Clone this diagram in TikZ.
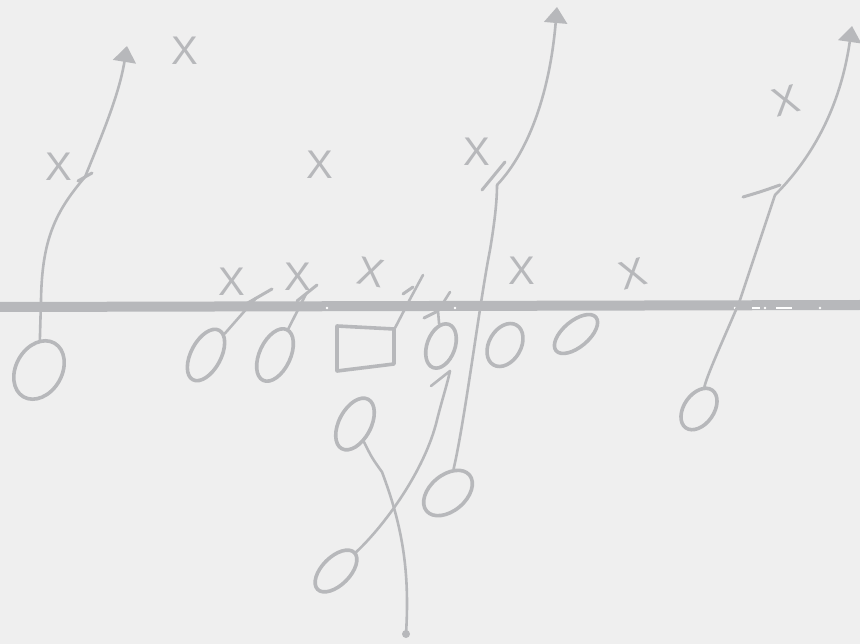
\documentclass[tikz,border=0pt]{standalone}
\usepackage{fontspec}
\setmainfont{Liberation Sans}
\usetikzlibrary{shapes.geometric,arrows.meta}
\definecolor{ink}{HTML}{B7B8BB}
\definecolor{paper}{HTML}{EFEFEF}
\begin{document}
\begin{tikzpicture}[x=1pt,y=-1pt,
  player/.style={ellipse, draw=ink, line width=3.6pt, inner sep=0pt},
  route/.style={draw=ink, line width=2.6pt, line cap=round, line join=round},
  arrowroute/.style={route, -{Triangle[length=16pt,width=23pt]}},
  block/.style={draw=ink, line width=3pt, line cap=round},
  defender/.style={text=ink, font=\fontsize{40}{40}\selectfont, inner sep=0pt},
  gap/.style={fill=white}]
\fill[paper] (0,0) rectangle (860,644);
\useasboundingbox (0,0) rectangle (860,644);
% line of scrimmage
\draw[ink, line width=10pt] (0,307) -- (860,305);
\foreach \p in {327,455,735,765,820} \fill[gap] (\p,308) circle (1.4pt);
\fill[gap] (752,307.3) rectangle (760,308.7);
\fill[gap] (776,307.3) rectangle (792,308.7);
% offense
\node[player, minimum width=62pt, minimum height=46pt, rotate=60] (o1) at (39,370) {};
\node[player, minimum width=56pt, minimum height=30pt, rotate=62] (o2) at (206,355) {};
\node[player, minimum width=56pt, minimum height=31pt, rotate=65] (o3) at (275,355) {};
\draw[ink, line width=3.6pt, line join=round] (337,326) -- (394,329) -- (394,364) -- (337,371) -- cycle;
\coordinate (sq) at (395,328);
\node[player, minimum width=46pt, minimum height=28pt, rotate=70] (o4) at (441,346) {};
\node[player, minimum width=46pt, minimum height=32pt, rotate=60] (o5) at (505,345) {};
\node[player, minimum width=52pt, minimum height=26pt, rotate=40] (o6) at (576,334) {};
\node[player, minimum width=46pt, minimum height=30pt, rotate=55] (o7) at (699,409) {};
\node[player, minimum width=56pt, minimum height=32pt, rotate=62] (o8) at (355,424) {};
\node[player, minimum width=56pt, minimum height=36pt, rotate=40] (o9) at (448,493) {};
\node[player, minimum width=52pt, minimum height=28pt, rotate=45] (o10) at (336,571) {};
% defense
\node[defender] (x1) at (185,51) {X};
\node[defender] (x2) at (59,167) {X};
\node[defender] (x3) at (320,165) {X};
\node[defender] (x4) at (232,282) {X};
\node[defender] (x5) at (298,277) {X};
\node[defender, rotate=-10] (x6) at (371,272) {X};
\node[defender] (x7) at (522,271) {X};
\node[defender, rotate=15] (x8) at (633,274) {X};
\node[defender] (x9) at (477,152) {X};
\node[defender, rotate=15] (x10) at (786,101) {X};
% route 1 (left receiver)
\coordinate (k1) at (85,177);
\coordinate (t1) at (127,46);
\draw[route] (o1) -- (41,300) .. controls (42,240) and (55,212) .. (k1);
\draw[arrowroute] (k1) .. controls (102,135) and (119,95) .. (t1);
\draw[block] (78,181) -- (92,173);
% route 2 (back from behind)
\coordinate (k2) at (497,185);
\coordinate (t2) at (557,7);
\draw[route] (o9) .. controls (465,420) and (480,300) .. (490,250) .. controls (495,220) and (497,200) .. (k2);
\draw[arrowroute] (k2) .. controls (530,150) and (550,90) .. (t2);
\draw[block] (482,190) -- (505,162);
% route 3 (right end)
\coordinate (k3) at (775,195);
\coordinate (t3) at (852,26);
\draw[route] (o7) .. controls (708,372) and (730,325) .. (740,300) -- (k3);
\draw[arrowroute] (k3) .. controls (810,160) and (840,110) .. (t3);
\draw[block] (743,197) .. controls (760,192) .. (780,185);
% route 4 (back crossing down)
\coordinate (d4) at (406,634);
\draw[route] (o8) .. controls (372,458) .. (382,472) .. controls (402,525) and (410,570) .. (d4);
\fill[ink] (d4) circle (4pt);
% route 5 (back crossing up)
\coordinate (k5) at (450,371);
\draw[route] (o10) .. controls (385,525) and (425,470) .. (437,420) .. controls (442,400) and (447,385) .. (k5) -- (431,386);
% blocks
\draw[route] (o2) -- (256,298);
\draw[block] (246,304) -- (272,289);
\draw[route] (o3) -- (306,294);
\draw[block] (297,301) -- (317,285);
\draw[route] (sq) -- (409,301) -- (423,275);
\draw[block] (403,294) -- (413,287);
\draw[route] (o4) -- (438,311) -- (450,292);
\draw[block] (424,318) -- (438,311);
\end{tikzpicture}
\end{document}
